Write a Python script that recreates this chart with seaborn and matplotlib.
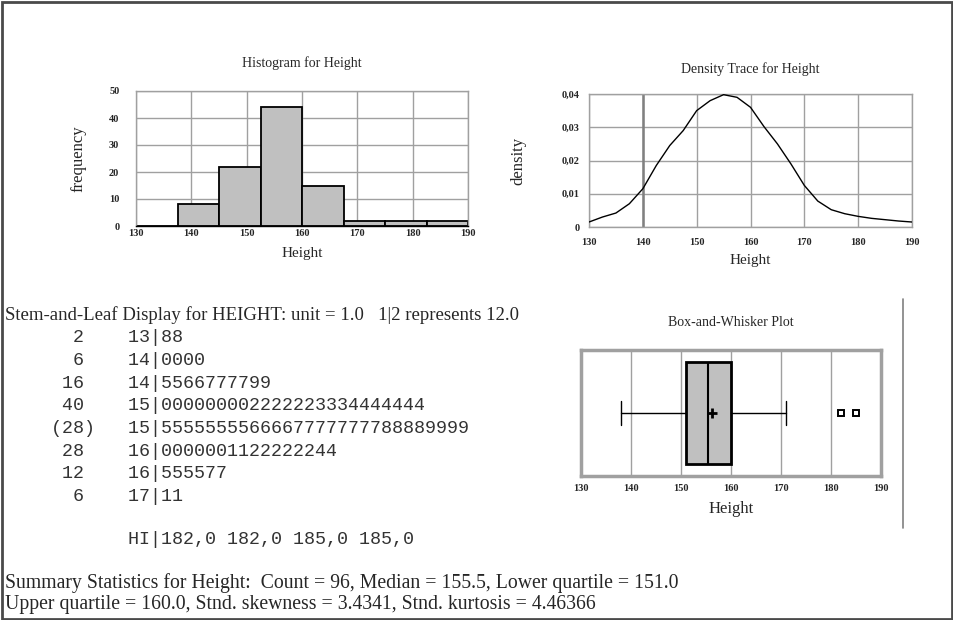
import numpy as np
import seaborn as sns
from matplotlib import pyplot as plt
from matplotlib.lines import Line2D
from matplotlib.patches import Rectangle

# data
bin_edges = [130, 137.5, 145, 152.5, 160, 167.5, 175, 182.5, 190]
bin_counts = [0, 8, 22, 44, 15, 2, 2, 2]

dens_x = [130, 132.5, 135, 137.5, 140, 142.5, 145, 147.5, 150, 152.5, 155, 157.5,
          160, 162.5, 165, 167.5, 170, 172.5, 175, 177.5, 180, 182.5, 185, 187.5, 190]
dens_y = [0.0015, 0.003, 0.0042, 0.007, 0.0115, 0.0185, 0.0245, 0.029, 0.035, 0.038,
          0.0398, 0.039, 0.036, 0.0302, 0.025, 0.019, 0.0125, 0.0078, 0.0052, 0.004,
          0.0032, 0.0026, 0.0022, 0.0018, 0.0015]

box_q1, box_med, box_q3 = 151.0, 155.5, 160.0
box_whislo, box_whishi = 138.0, 171.0
box_mean = 156.2
box_fliers = [182.0, 185.0]

stem_depths = ['2', '6', '16', '40', '(28)', '28', '12', '6']
stem_stems = ['13', '14', '14', '15', '15', '16', '16', '17']
stem_leaves = ['88', '0000', '5566777799', '000000002222223334444444',
               '5555555566667777777788889999', '0000001122222244', '555577', '11']
hi_values = ['182,0', '182,0', '185,0', '185,0']

x_ticks = [130, 140, 150, 160, 170, 180, 190]

W, H = 954, 620
SERIF = 'Liberation Serif'
GRID = '#a0a0a0'

sns.set_style('white')
plt.rcParams['font.family'] = [SERIF, 'DejaVu Sans']

fig = plt.figure(figsize=(W / 100, H / 100), dpi=100)


def rect(x0, y0, x1, y1):
    return [x0 / W, 1 - y1 / H, (x1 - x0) / W, (y1 - y0) / H]


def ftext(x, y, s, **kw):
    fig.text(x / W, 1 - y / H, s, **kw)


def style_axes(ax, yticks, ylabels, xpad, ypad, grid_y=True):
    ax.set_xlim(130, 190)
    ax.set_xticks(x_ticks)
    ax.set_xticklabels([str(t) for t in x_ticks], fontsize=7.5, fontweight='bold')
    ax.set_yticks(yticks)
    ax.set_yticklabels(ylabels, fontsize=7.5, fontweight='bold')
    ax.tick_params(axis='x', length=0, pad=xpad)
    ax.tick_params(axis='y', length=0, pad=ypad)
    ax.grid(False)
    for t in x_ticks:
        ax.axvline(t, color=GRID, lw=1, zorder=0)
    if grid_y:
        for t in yticks:
            ax.axhline(t, color=GRID, lw=1, zorder=0)
    for sp in ax.spines.values():
        sp.set_color(GRID)
        sp.set_linewidth(1)


def place_labels(ax, box, title, title_y, xlabel, xlabel_y, xsize, ylabel=None, ylabel_x=None, ysize=12):
    x0, y0, x1, y1 = box
    ax.set_title('')
    ftext((x0 + x1) / 2, title_y, title, fontsize=10, ha='center', va='center')
    ftext((x0 + x1) / 2, xlabel_y, xlabel, fontsize=xsize, ha='center', va='center')
    if ylabel:
        ftext(ylabel_x, (y0 + y1) / 2, ylabel, fontsize=ysize, ha='center', va='center',
              rotation=90)
    ax.set_xlabel('')
    ax.set_ylabel('')


# outer frame
fig.add_artist(Rectangle((1.5 / W, 1.5 / H), 1 - 3 / W, 1 - 3 / H, transform=fig.transFigure,
                         fill=False, edgecolor='#4a4a4a', lw=2))

#########################################################################################
# histogram
box1 = (136, 91, 468, 226)
ax1 = fig.add_axes(rect(*box1))
mids = [(bin_edges[i] + bin_edges[i + 1]) / 2 for i in range(len(bin_counts))]
sns.histplot(x=mids, weights=bin_counts, bins=bin_edges, color='#c0c0c0', alpha=1,
             edgecolor='black', linewidth=1.3, ax=ax1, zorder=2)
ax1.set_ylim(0, 50)
style_axes(ax1, [0, 10, 20, 30, 40, 50], ['0', '10', '20', '30', '40', '50'], xpad=2, ypad=12)
ax1.spines['bottom'].set_color('black')
place_labels(ax1, box1, 'Histogram for Height', 63, 'Height', 253, 11, 'frequency', 78)

#########################################################################################
# density trace
box2 = (589, 94, 912, 227)
ax2 = fig.add_axes(rect(*box2))
sns.lineplot(x=dens_x, y=dens_y, color='black', lw=1, ax=ax2, zorder=3)
ax2.set_ylim(0, 0.04)
style_axes(ax2, [0, 0.01, 0.02, 0.03, 0.04], ['0', '0,01', '0,02', '0,03', '0,04'], xpad=8, ypad=7)
ax2.axvline(140, color='#808080', lw=1.8, zorder=1)
place_labels(ax2, box2, 'Density Trace for Height', 69, 'Height', 261, 11, 'density', 518)

#########################################################################################
# box-and-whisker
box3 = (581, 350, 881, 476)
ax3 = fig.add_axes(rect(*box3))
stats = [dict(med=box_med, q1=box_q1, q3=box_q3, whislo=box_whislo, whishi=box_whishi,
              mean=box_mean, fliers=box_fliers)]
ax3.bxp(stats, positions=[0.5], widths=0.81, orientation='horizontal', patch_artist=True,
        showmeans=True, capwidths=0.19,
        boxprops=dict(facecolor='#c0c0c0', edgecolor='black', lw=2),
        medianprops=dict(color='black', lw=1.5),
        whiskerprops=dict(color='black', lw=1),
        capprops=dict(color='black', lw=1),
        meanprops=dict(marker='+', markeredgecolor='black', markersize=7, mew=2),
        flierprops=dict(marker='s', markerfacecolor='white', markeredgecolor='black',
                        markersize=4.5, mew=1.4))
ax3.set_ylim(0, 1)
style_axes(ax3, [], [], xpad=6, ypad=4, grid_y=False)
for sp in ax3.spines.values():
    sp.set_linewidth(2.5)
place_labels(ax3, box3, 'Box-and-Whisker Plot', 323, 'Height', 509, 12)

fig.add_artist(Line2D([903 / W, 903 / W], [1 - 299 / H, 1 - 528 / H], transform=fig.transFigure,
                      color='#808080', lw=1.2))

#########################################################################################
# stem-and-leaf text
ftext(5, 315, 'Stem-and-Leaf Display for HEIGHT: unit = 1.0   1|2 represents 12.0',
      fontsize=13.5, va='center', ha='left')

MONO = ['Liberation Mono', 'DejaVu Sans Mono']
row_y = 338
for d, s, l in zip(stem_depths, stem_stems, stem_leaves):
    if d.startswith('('):
        line = f'{d:>6}   {s}|{l}'
    else:
        line = f'{d:>5}    {s}|{l}'
    ftext(29, row_y, line, fontsize=13.2, family=MONO, va='center', ha='left', color='#333333')
    row_y += 22.6
ftext(29, 540, ' ' * 9 + 'HI|' + ' '.join(hi_values), fontsize=13.2, family=MONO,
      va='center', ha='left', color='#333333')

ftext(5, 583, 'Summary Statistics for Height:  Count = 96, Median = 155.5, Lower quartile = 151.0',
      fontsize=14.2, va='center', ha='left')
ftext(5, 605, 'Upper quartile = 160.0, Stnd. skewness = 3.4341, Stnd. kurtosis = 4.46366',
      fontsize=14.2, va='center', ha='left')

plt.savefig('out.png', dpi=100)
